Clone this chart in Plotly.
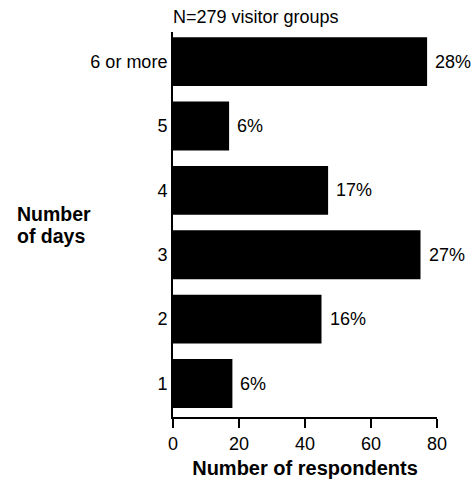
import plotly.graph_objects as go

categories = ["1", "2", "3", "4", "5", "6 or more"]
respondents = [18, 45, 75, 47, 17, 77]
pct_labels = ["6%", "16%", "27%", "17%", "6%", "28%"]
x_ticks = [0, 20, 40, 60, 80]
y_title_lines = ["Number", "of days"]

FONT = "Liberation Sans, Arial, sans-serif"

fig = go.Figure()
fig.add_trace(go.Bar(
    y=categories, x=respondents, orientation="h",
    marker=dict(color="black", line=dict(width=0)),
    width=0.76, hoverinfo="skip",
))

for i, (v, t) in enumerate(zip(respondents, pct_labels)):
    fig.add_annotation(x=v, y=i, text=t, showarrow=False, xanchor="left",
                       xshift=6, font=dict(family=FONT, size=18, color="black"))

fig.add_annotation(xref="paper", yref="paper", x=0, y=1, yanchor="bottom", xanchor="left",
                   text="N=279 visitor groups", showarrow=False, yshift=3, xshift=-2,
                   font=dict(family=FONT, size=18, color="black"))
for line, shift in zip(y_title_lines, [11, -11]):
    fig.add_annotation(xref="paper", yref="paper", x=-0.598, y=0.5, xanchor="left",
                       yanchor="middle", yshift=shift, align="left",
                       text=f"<b>{line}</b>", showarrow=False,
                       font=dict(family=FONT, size=19.5, color="black"))

fig.update_layout(
    width=472, height=488,
    margin=dict(l=173, r=35, t=32, b=65),
    paper_bgcolor="white", plot_bgcolor="white",
    showlegend=False, bargap=0.24,
    font=dict(family=FONT, size=18, color="black"),
    xaxis=dict(range=[0, 80], tickvals=x_ticks, showgrid=False, zeroline=False,
               showline=True, linecolor="black", linewidth=2,
               ticks="outside", ticklen=9, tickwidth=2, tickcolor="black",
               title=dict(text="<b>Number of respondents</b>", font=dict(size=20), standoff=8)),
    yaxis=dict(type="category", categoryorder="array", categoryarray=categories,
               range=[-0.52, 5.46],
               showgrid=False, zeroline=False, showline=True, linecolor="black", linewidth=2,
               ticks="", ticklen=0, ticklabelstandoff=0),
)

fig.write_html("out.html", config={"displayModeBar": False},
               post_script="document.body.style.margin='0';document.body.style.overflow='hidden';")
